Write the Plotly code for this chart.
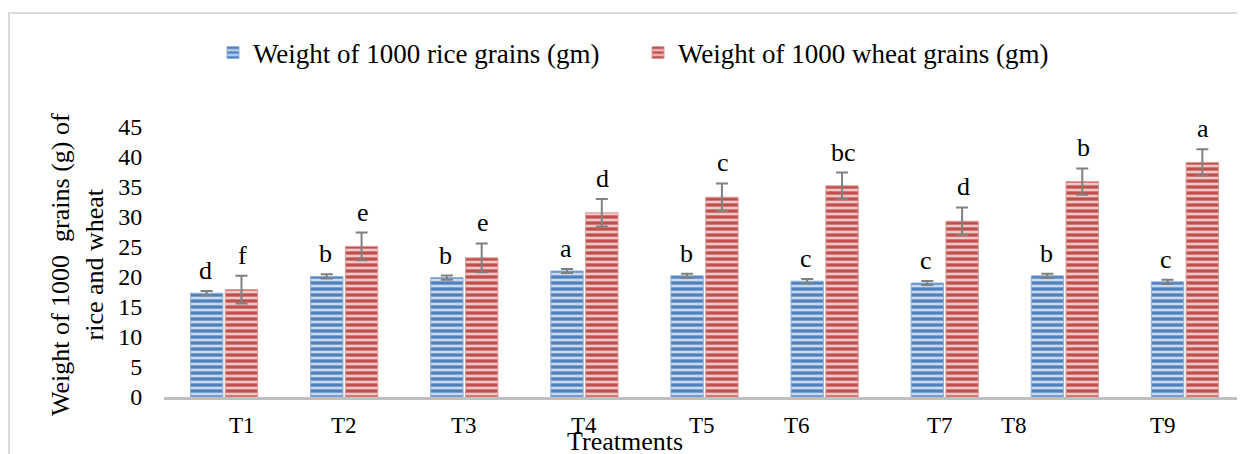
import plotly.graph_objects as go

treatments = ["T1", "T2", "T3", "T4", "T5", "T6", "T7", "T8", "T9"]
rice = [17.3, 20.1, 19.9, 21.0, 20.2, 19.3, 19.0, 20.2, 19.2]
rice_err = [0.35, 0.35, 0.35, 0.35, 0.35, 0.35, 0.35, 0.35, 0.35]
wheat = [17.9, 25.1, 23.2, 30.7, 33.3, 35.2, 29.3, 35.9, 39.1]
wheat_err = [2.3, 2.3, 2.4, 2.3, 2.3, 2.2, 2.3, 2.2, 2.2]
rice_letters = ["d", "b", "b", "a", "b", "c", "c", "b", "c"]
wheat_letters = ["f", "e", "e", "d", "c", "bc", "d", "b", "a"]
series_names = ["Weight of 1000 rice grains (gm)", "Weight of 1000 wheat grains (gm)"]
y_ticks = [0, 5, 10, 15, 20, 25, 30, 35, 40, 45]

# label offsets (px) reproducing the original label placement
label_shift = [18, 0, 0, 0, -3, -28, -5, -51, -22]

FONT = "Liberation Serif, Times New Roman, serif"
OFF = 8  # default page body margin
W, H = 1245 - OFF, 454 - OFF
L, R, T, B = 164 - OFF, 0, 127 - OFF, 57
pw, ph = W - L - R, H - T - B

def px_x(p):
    return (p - OFF - L) / pw

def px_y(p):
    return (H - B - (p - OFF)) / ph

fig = go.Figure()
fig.add_trace(go.Bar(
    x=treatments, y=rice, name=series_names[0],
    marker=dict(color="#4f81bd", line=dict(color="#8fb0dc", width=1),
                pattern=dict(shape="-", fgcolor="#c9d9f0", bgcolor="#4f81bd",
                             size=6, solidity=0.45, fillmode="replace")),
    error_y=dict(type="data", array=rice_err, color="#808080", thickness=2, width=6),
))
fig.add_trace(go.Bar(
    x=treatments, y=wheat, name=series_names[1],
    marker=dict(color="#c0504d", line=dict(color="#e09a98", width=1),
                pattern=dict(shape="-", fgcolor="#f0c8c7", bgcolor="#c0504d",
                             size=6, solidity=0.45, fillmode="replace")),
    error_y=dict(type="data", array=wheat_err, color="#808080", thickness=2, width=6),
))

annotations = []
for i, t in enumerate(treatments):
    annotations.append(dict(x=t, y=rice[i] + rice_err[i], text=rice_letters[i],
                            xref="x", yref="y", showarrow=False, xshift=-18.5,
                            yanchor="bottom", yshift=4, font=dict(family=FONT, size=26, color="black")))
    annotations.append(dict(x=t, y=wheat[i] + wheat_err[i], text=wheat_letters[i],
                            xref="x", yref="y", showarrow=False, xshift=18.5,
                            yanchor="bottom", yshift=4, font=dict(family=FONT, size=26, color="black")))
    annotations.append(dict(x=t, y=px_y(425), text=t, xref="x", yref="paper",
                            showarrow=False, xshift=label_shift[i], xanchor="center", yanchor="middle",
                            font=dict(family=FONT, size=23, color="black")))

annotations.append(dict(x=px_x(625), y=px_y(441), xref="paper", yref="paper", text="Treatments",
                        showarrow=False, xanchor="center", yanchor="middle",
                        font=dict(family=FONT, size=26, color="black")))
annotations.append(dict(x=px_x(77), y=px_y(265), xref="paper", yref="paper",
                        text="Weight of 1000  grains (g) of<br>rice and wheat", textangle=-90,
                        showarrow=False, xanchor="center", yanchor="middle",
                        font=dict(family=FONT, size=26, color="black")))

fig.update_layout(
    width=W, height=H,
    margin=dict(l=L, r=R, t=T, b=B, autoexpand=False),
    paper_bgcolor="white", plot_bgcolor="white",
    barmode="group", bargap=0.42, bargroupgap=0.07,
    font=dict(family=FONT, size=23, color="black"),
    legend=dict(orientation="h", x=px_x(638), y=px_y(53), xanchor="center", yanchor="middle",
                font=dict(family=FONT, size=27, color="black"), itemwidth=30,
                entrywidth=380, bgcolor="rgba(0,0,0,0)"),
    annotations=annotations,
    shapes=[dict(type="rect", xref="paper", yref="paper",
                 x0=px_x(9), x1=px_x(1270), y0=px_y(480), y1=px_y(13),
                 line=dict(color="#d9d9d9", width=2), layer="below")],
)
fig.update_xaxes(showticklabels=False, showline=True, linecolor="#bfbfbf", linewidth=3,
                 showgrid=False, ticks="", zeroline=False)
fig.update_yaxes(range=[0, 45], tickvals=y_ticks, showgrid=False, showline=False, zeroline=False,
                 ticks="outside", ticklen=0, tickcolor="white", ticklabelstandoff=16,
                 tickfont=dict(family=FONT, size=24, color="black"))

fig.write_html("out.html")
